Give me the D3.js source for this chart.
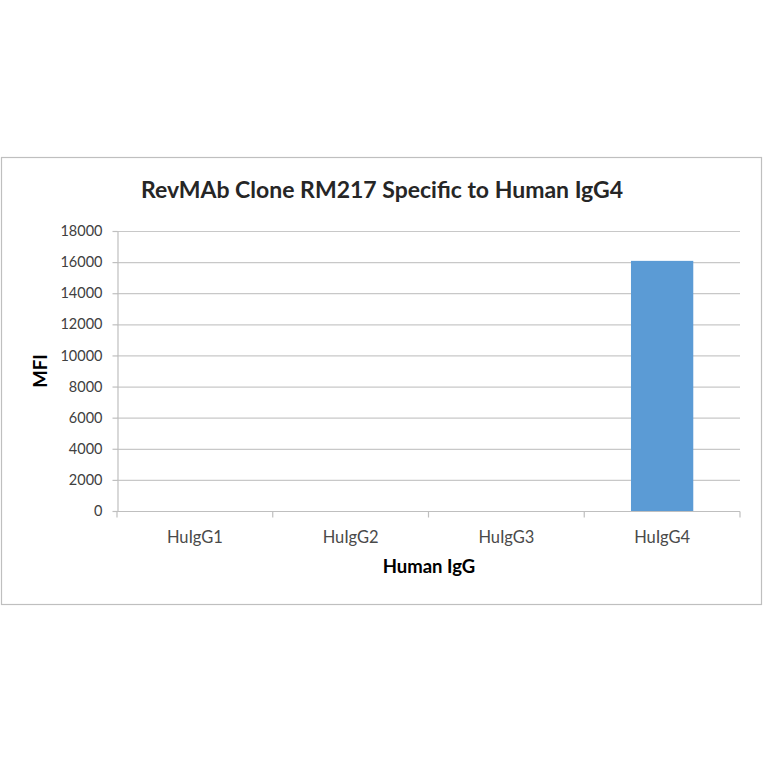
<!DOCTYPE html>
<html>
<head>
<meta charset="utf-8">
<script src="https://cdn.jsdelivr.net/npm/d3@7"></script>
<style>
  body { margin: 0; background: #fff; }
  svg { display: block; }
</style>
</head>
<body>
<svg id="chart"></svg>
<script>
const categories = ['HuIgG1', 'HuIgG2', 'HuIgG3', 'HuIgG4']
const mfiValues = [0, 0, 0, 16080]
const yTicks = [0, 2000, 4000, 6000, 8000, 10000, 12000, 14000, 16000, 18000]

const width = 764
const height = 764
const font = 'Lato, "Open Sans", sans-serif'

const svg = d3.select('#chart')
    .attr('width', width)
    .attr('height', height)

// chart frame
svg.append('rect')
    .attr('x', 1.5)
    .attr('y', 157.5)
    .attr('width', 760)
    .attr('height', 447)
    .attr('fill', '#fff')
    .attr('stroke', '#bfbfbf')
    .attr('stroke-width', 1.2)

const plot = { left: 117, right: 740, top: 231, bottom: 511 }

const xScale = d3.scaleBand()
    .domain(categories)
    .range([plot.left, plot.right])
    .paddingInner(0.6)
    .paddingOuter(0.3)

const xBand = d3.scaleBand()
    .domain(categories)
    .range([plot.left, plot.right])

const yScale = d3.scaleLinear()
    .domain([0, 18000])
    .range([plot.bottom, plot.top])

// gridlines
svg.append('g')
    .selectAll('line')
    .data(yTicks.filter(d => d > 0))
    .enter()
    .append('line')
    .attr('x1', plot.left)
    .attr('x2', plot.right)
    .attr('y1', d => yScale(d) + 0.5)
    .attr('y2', d => yScale(d) + 0.5)
    .attr('stroke', '#c8c8c8')
    .attr('stroke-width', 1.2)

// bars
svg.append('g')
    .selectAll('rect')
    .data(categories.map((c, i) => [c, mfiValues[i]]))
    .enter()
    .append('rect')
    .attr('x', d => xScale(d[0]))
    .attr('y', d => yScale(d[1]))
    .attr('width', xScale.bandwidth())
    .attr('height', d => plot.bottom - yScale(d[1]))
    .attr('fill', '#5b9bd5')

// y axis
const yAxis = svg.append('g')
    .attr('transform', `translate(${plot.left + 0.5},0)`)
    .call(d3.axisLeft(yScale)
        .tickValues(yTicks)
        .tickFormat(d3.format('d'))
        .tickSize(5)
        .tickSizeOuter(0)
        .tickPadding(10))
yAxis.select('.domain').attr('stroke', '#bfbfbf').attr('stroke-width', 1.2)
yAxis.selectAll('.tick line').attr('stroke', '#bfbfbf').attr('stroke-width', 1.2)
yAxis.selectAll('text')
    .attr('fill', '#404040')
    .style('font-family', font)
    .style('font-size', '14.5px')

// x axis with ticks on category boundaries
const xAxisG = svg.append('g')
    .attr('transform', `translate(0,${plot.bottom + 0.5})`)
xAxisG.append('line')
    .attr('x1', plot.left)
    .attr('x2', plot.right)
    .attr('stroke', '#bfbfbf')
    .attr('stroke-width', 1.2)
const bounds = categories.map(c => xBand(c)).concat([plot.right])
xAxisG.selectAll('.bnd')
    .data(bounds)
    .enter()
    .append('line')
    .attr('x1', d => d)
    .attr('x2', d => d)
    .attr('y1', 0)
    .attr('y2', 6)
    .attr('stroke', '#bfbfbf')
    .attr('stroke-width', 1.2)
xAxisG.selectAll('text')
    .data(categories)
    .enter()
    .append('text')
    .attr('x', d => xBand(d) + xBand.bandwidth() / 2)
    .attr('y', 31)
    .attr('text-anchor', 'middle')
    .attr('fill', '#4a4a4a')
    .style('font-family', font)
    .style('font-size', '16.5px')
    .text(d => d)

// title
svg.append('text')
    .attr('x', 382)
    .attr('y', 198)
    .attr('text-anchor', 'middle')
    .attr('fill', '#262626')
    .style('font-family', font)
    .style('font-weight', 'bold')
    .style('font-size', '23px')
    .text('RevMAb Clone RM217 Specific to Human IgG4')

// axis titles
svg.append('text')
    .attr('x', 429)
    .attr('y', 573)
    .attr('text-anchor', 'middle')
    .attr('fill', '#000')
    .style('font-family', font)
    .style('font-weight', 'bold')
    .style('font-size', '18.5px')
    .text('Human IgG')

svg.append('text')
    .attr('transform', 'translate(47,371) rotate(-90)')
    .attr('text-anchor', 'middle')
    .attr('fill', '#000')
    .style('font-family', font)
    .style('font-weight', 'bold')
    .style('font-size', '18.5px')
    .text('MFI')
</script>
</body>
</html>
